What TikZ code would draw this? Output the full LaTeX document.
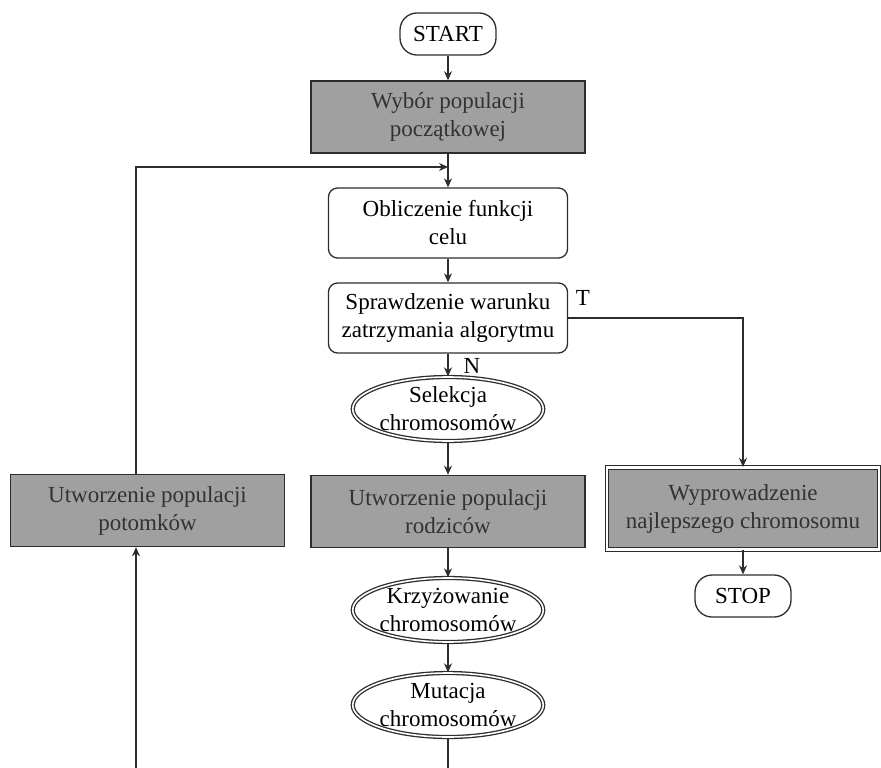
\documentclass[tikz,border=0pt]{standalone}
\usepackage{fontspec}
\setmainfont{Liberation Serif}
\usetikzlibrary{shapes.geometric,arrows.meta}
\definecolor{boxgray}{RGB}{160,160,160}
\definecolor{linegray}{RGB}{45,45,45}
\definecolor{txtgray}{RGB}{50,50,50}
\begin{document}
\begin{tikzpicture}[x=1pt,y=-1pt,
  every node/.style={font=\fontsize{23}{28}\selectfont, align=center},
  conn/.style={draw=linegray, line width=1.3pt},
  arr/.style={conn, -{Stealth[length=9pt,width=8pt]}},
  term/.style={draw=linegray, line width=1.3pt, rounded corners=17pt, minimum width=96pt, minimum height=42pt, inner sep=0pt, fill=white},
  graybox/.style={draw=linegray, line width=1.6pt, fill=boxgray, text=txtgray, minimum width=274pt, minimum height=72pt, inner sep=0pt},
  whitebox/.style={draw=linegray, line width=1.3pt, rounded corners=9pt, fill=white, minimum width=239pt, minimum height=70pt, inner sep=0pt},
  ellbox/.style={ellipse, draw=linegray, double=white, double distance=1.6pt, line width=1.3pt, minimum width=190pt, minimum height=64pt, inner xsep=-1pt, inner ysep=-2pt},
  dblbox/.style={graybox, double=white, double distance=2.2pt, line width=1.2pt, minimum width=272pt, minimum height=82pt}
]
\fill[white] (0,0) rectangle (881,768);
\useasboundingbox (0,0) rectangle (881,768);

\node[term] (start) at (448,34) {START};
\node[graybox] (wyb) at (448,117) {Wybór populacji\\początkowej};
\node[whitebox] (obl) at (448,223) {Obliczenie funkcji\\celu};
\node[whitebox] (spr) at (448,318) {Sprawdzenie warunku\\zatrzymania algorytmu};
\node[ellbox] (sel) at (448,409) {Selekcja\\chromosomów};
\node[graybox] (rod) at (448,511.5) {Utworzenie populacji\\rodziców};
\node[graybox] (pot) at (147.5,510.5) {Utworzenie populacji\\potomków};
\node[dblbox] (wyp) at (743,508.5) {Wyprowadzenie\\najlepszego chromosomu};
\node[term] (stop) at (743,596) {STOP};
\node[ellbox] (krz) at (448,610) {Krzyżowanie\\chromosomów};
\node[ellbox] (mut) at (448,705) {Mutacja\\chromosomów};

\node (nl) at (472,366) {N};
\node (tl) at (583,298) {T};

\coordinate (j) at (448,167);
\coordinate (fb) at (136,167);
\coordinate (bm) at (448,768);
\coordinate (bl) at (136,768);

\draw[arr] (start) -- (wyb);
\draw[arr] (wyb) -- (obl);
\draw[arr] (pot.north -| fb) -- (fb) -- (j);
\draw[arr] (obl) -- (spr);
\draw[arr] (spr) -- (sel);
\draw[arr] (sel) -- (rod);
\draw[arr] (rod) -- (krz);
\draw[arr] (krz) -- (mut);
\draw[conn] (mut) -- (bm);
\draw[arr] (bl) -- (pot.south -| bl);
\draw[arr] (spr.east) -- (spr.east -| wyp.north) -- (wyp.north);
\draw[arr] (wyp) -- (stop);
\end{tikzpicture}
\end{document}
